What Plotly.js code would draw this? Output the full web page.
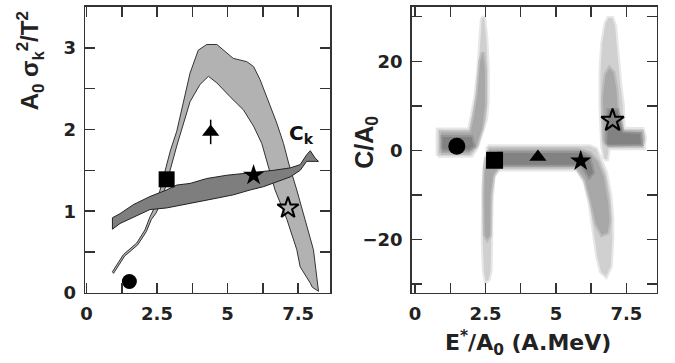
<!DOCTYPE html>
<html><head><meta charset="utf-8">
<script src="https://cdn.plot.ly/plotly-3.0.1.min.js"></script>
<style>body{margin:0;background:#fff}</style></head>
<body><div id="chart" style="width:675px;height:363px"></div>
<script>
// ---------- left panel: A0 sigma_k^2 / T^2 band (outer edge, then inner edge back) ----------
const sigOuterX = [0.92,1.31,1.78,2.07,2.25,2.43,2.60,2.75,2.98,3.20,3.45,3.67,3.96,4.26,4.62,4.97,5.20,5.68,5.92,6.15,6.39,6.74,6.98,7.16,7.45,7.75,8.04,8.22];
const sigOuterY = [0.26,0.47,0.61,0.77,0.93,1.06,1.25,1.46,1.75,1.98,2.35,2.69,2.97,3.04,3.04,2.93,2.87,2.83,2.77,2.61,2.40,2.08,1.83,1.59,1.26,0.90,0.53,0.02];
const sigInnerX = [8.00,7.93,7.57,7.45,7.10,6.68,6.39,6.21,5.92,5.56,5.09,4.62,4.32,4.02,3.67,3.45,3.20,2.90,2.65,2.47,2.30,2.12,1.82,1.35,0.96];
const sigInnerY = [0.07,0.12,0.32,0.53,0.90,1.26,1.63,1.83,2.04,2.24,2.40,2.57,2.65,2.55,2.34,2.10,1.80,1.42,1.12,0.98,0.90,0.75,0.59,0.45,0.24];
// ---------- left panel: C_k band ----------
const ckUpperX = [0.92,1.19,1.66,2.25,2.84,3.20,3.67,4.26,4.97,5.56,6.03,6.62,7.22,7.57,7.80,7.93,8.10,8.22];
const ckUpperY = [0.92,0.97,1.08,1.18,1.26,1.32,1.34,1.40,1.44,1.46,1.48,1.50,1.53,1.57,1.69,1.74,1.65,1.61];
const ckLowerX = [7.80,7.57,7.22,6.74,6.27,5.80,5.20,4.62,4.02,3.43,2.84,2.25,1.66,1.19,0.92];
const ckLowerY = [1.61,1.50,1.42,1.36,1.30,1.26,1.20,1.16,1.12,1.08,1.04,1.02,0.93,0.85,0.78];
// ---------- left panel markers ----------
const leftMarkX = [1.52, 2.84, 4.40, 5.92, 7.14];
const leftMarkY = [0.14, 1.39, 1.97, 1.44, 1.04];
const triErr = [0, 0, 0.15, 0, 0];
const markSymbols = ['circle','square','triangle-up','star','star-open'];
// ---------- right panel: C/A0 bands (light, medium, dark) ----------
const lLightX = [0.80,0.80,1.92,2.02,2.14,2.24,2.31,2.37,2.45,2.53,2.58,2.58,2.52,2.38,2.18,2.00];
const lLightY = [-1.2,4.7,4.7,8,12,18,25,29.5,30,25,18,11,7,4,0.5,-1.2];
const lMedX = [0.92,0.92,1.97,2.10,2.22,2.31,2.41,2.48,2.48,2.38,2.18,1.90];
const lMedY = [-0.6,4.0,4.0,8,13,20,22,18,10,5,1,-0.6];
const lDarkX = [0.97,0.97,2.00,2.08,1.90];
const lDarkY = [0.2,3.0,3.0,1.0,0.2];
const dLightX = [2.55,2.47,2.42,2.40,2.44,2.51,2.61,2.68,2.70,2.71,2.78,2.98];
const dLightY = [-1,-4,-8,-20,-27,-29.5,-29,-27,-20,-12,-6,-4];
const dMedX = [2.52,2.47,2.45,2.47,2.56,2.66,2.68,2.78,2.93];
const dMedY = [-1.5,-4,-10,-19,-20,-19,-10,-5.5,-4];
const mLightX = [2.57,6.20,6.43,6.58,6.78,6.93,7.00,7.00,6.95,6.78,6.60,6.47,6.33,6.20,6.02,5.75,2.57];
const mLightY = [0.9,0.9,0.3,-2,-5,-10,-15,-20,-26,-28.3,-27.3,-24,-18,-12,-7,-4.3,-4.3];
const mMedX = [2.62,5.80,6.20,6.48,6.70,6.86,6.90,6.83,6.62,6.42,6.22,6.02,5.70,2.62];
const mMedY = [0.2,0.2,-0.6,-2.5,-6,-12,-16,-18.5,-19,-16.5,-11,-6.5,-3.6,-3.6];
const mDarkX = [2.90,5.90,6.18,6.32,6.18,5.90,2.90];
const mDarkY = [-0.6,-0.6,-1.5,-5,-6,-3.2,-3.2];
const rLightX = [6.72,6.64,6.58,6.58,6.64,6.76,6.86,7.00,7.10,7.18,7.28,7.38,7.40,8.08,8.16,8.12,6.87,6.82,6.77];
const rLightY = [-2,1,10,17.5,24,28.5,29.7,29.7,28,22,15,10,4.8,4.8,3,0.5,0.5,-2,-2];
const rMedX = [6.70,6.67,6.76,6.90,7.04,7.14,7.20,7.28,8.06,8.10,8.03,6.86];
const rMedY = [2,12,17,18.5,17.5,14,9,4.1,4.1,2.2,1.1,1.1];
const rDarkX = [6.82,6.86,7.18,7.38,7.98,8.03,7.00];
const rDarkY = [1.3,9,9,3.9,3.7,1.4,1.3];
// ---------- right panel markers ----------
const rightMarkX = [1.48, 2.82, 4.36, 5.88, 7.01];
const rightMarkY = [0.9, -2.24, -1.5, -2.4, 6.7];
// ---------- ticks ----------
const xTickVals = [0,1.25,2.5,3.75,5,6.25,7.5];
const xTickText = ['0','','2.5','','5','','7.5'];
const lyTickVals = [0,0.5,1,1.5,2,2.5,3];
const lyTickText = ['0','','1','','2','','3'];
const ryTickVals = [-30,-20,-10,0,10,20,30];
const ryTickText = ['','\u221220','','0','','20',''];

const traces = [];
function poly(xs, ys, fill, line, lw, xa, ya) {
  traces.push({type:'scatter', mode:'lines', x:xs.concat([xs[0]]), y:ys.concat([ys[0]]),
    fill:'toself', fillcolor:fill, line:{color:line, width:lw}, xaxis:xa, yaxis:ya, hoverinfo:'skip'});
}
// left panel
poly(sigOuterX.concat(sigInnerX), sigOuterY.concat(sigInnerY), '#b2b2b2', '#333', 1, 'x', 'y');
poly(ckUpperX.concat(ckLowerX), ckUpperY.concat(ckLowerY), '#7e7e7e', '#222', 1, 'x', 'y');
// right panel soft bands
const soft = (c) => c.replace('rgb','rgba').replace(')',',0.5)');
[[lLightX,lLightY,'rgb(208,208,208)'],[dLightX,dLightY,'rgb(208,208,208)'],[mLightX,mLightY,'rgb(208,208,208)'],[rLightX,rLightY,'rgb(208,208,208)'],
 [lMedX,lMedY,'rgb(168,168,168)'],[dMedX,dMedY,'rgb(168,168,168)'],[mMedX,mMedY,'rgb(168,168,168)'],[rMedX,rMedY,'rgb(168,168,168)'],
 [lDarkX,lDarkY,'rgb(130,130,130)'],[mDarkX,mDarkY,'rgb(130,130,130)'],[rDarkX,rDarkY,'rgb(130,130,130)']
].forEach(p => poly(p[0], p[1], p[2], soft(p[2]), 4, 'x2', 'y2'));

const lSizes = [15, 16, 15, 16, 16];
const rSizes = [17, 17, 15, 16, 17];
for (let i = 0; i < 5; i++) {
  const open = markSymbols[i] === 'star-open';
  const m = {symbol: markSymbols[i], color: '#000', line:{color:'#000', width: open ? 2 : 0}};
  traces.push({type:'scatter', mode:'markers', x:[leftMarkX[i]], y:[leftMarkY[i]], xaxis:'x', yaxis:'y',
    marker:Object.assign({size:lSizes[i]}, m),
    error_y:{type:'data', array:[triErr[i]], visible: triErr[i] > 0, color:'#000', thickness:1.5, width:0}});
  traces.push({type:'scatter', mode:'markers', x:[rightMarkX[i]], y:[rightMarkY[i]], xaxis:'x2', yaxis:'y2',
    marker:Object.assign({size:rSizes[i]}, m)});
}

const tickFont = {family:'DejaVu Sans', size:18, color:'#222', weight:'bold'};
const axBase = {showline:true, linecolor:'#333', linewidth:1.5, mirror:'ticks', ticks:'inside', ticklen:10,
  tickwidth:1.5, tickcolor:'#333', showgrid:false, zeroline:false, tickmode:'array', tickfont:tickFont, ticklabelstandoff:4};
const yDom = [0.193, 0.981];
const layout = {
  width:675, height:363, margin:{l:0, r:0, t:0, b:0}, paper_bgcolor:'#fff', plot_bgcolor:'#fff', showlegend:false,
  xaxis: Object.assign({}, axBase, {domain:[0.126,0.489], range:[-0.05,8.63], tickvals:xTickVals, ticktext:xTickText, anchor:'y'}),
  yaxis: Object.assign({}, axBase, {domain:yDom, range:[0,3.5], tickvals:lyTickVals, ticktext:lyTickText, anchor:'x'}),
  xaxis2: Object.assign({}, axBase, {domain:[0.61,0.973], range:[-0.12,8.58], tickvals:xTickVals, ticktext:xTickText, anchor:'y2'}),
  yaxis2: Object.assign({}, axBase, {domain:yDom, range:[-32,32.2], tickvals:ryTickVals, ticktext:ryTickText, anchor:'x2'}),
  annotations: [
    {text:'C<sub>k</sub>', x:7.6, y:1.95, xref:'x', yref:'y', xanchor:'center', yanchor:'middle', showarrow:false,
      font:{family:'DejaVu Sans', size:20, color:'#111', weight:'bold'}},
    {text:'A<sub>0</sub> σ<sub>k</sub><sup>2</sup>/T<sup>2</sup>', x:0.045, y:0.832, xref:'paper', yref:'paper', textangle:-90,
      xanchor:'center', yanchor:'middle', showarrow:false, font:{family:'Liberation Sans', size:24, color:'#222', weight:'bold'}},
    {text:'C/A<sub>0</sub>', x:0.542, y:0.609, xref:'paper', yref:'paper', textangle:-90,
      xanchor:'center', yanchor:'middle', showarrow:false, font:{family:'Liberation Sans', size:25, color:'#222', weight:'bold'}},
    {text:'E<sup>*</sup>/A<sub>0</sub> (A.MeV)', x:0.782, y:0.055, xref:'paper', yref:'paper',
      xanchor:'center', yanchor:'middle', showarrow:false, font:{family:'DejaVu Sans', size:22, color:'#222', weight:'bold'}}
  ]
};
Plotly.newPlot('chart', traces, layout, {displayModeBar:false, staticPlot:true});
</script></body></html>
